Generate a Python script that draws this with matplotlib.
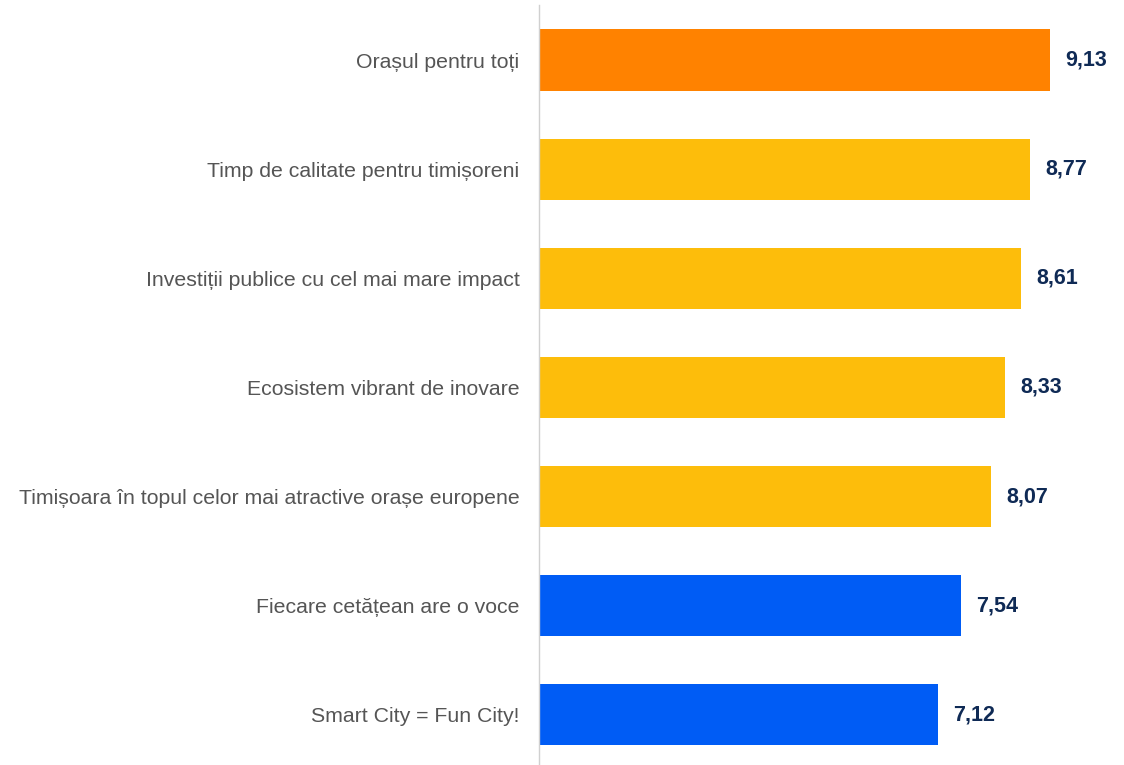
import matplotlib.pyplot as plt

categories = [
    "Orașul pentru toți",
    "Timp de calitate pentru timișoreni",
    "Investiții publice cu cel mai mare impact",
    "Ecosistem vibrant de inovare",
    "Timișoara în topul celor mai atractive orașe europene",
    "Fiecare cetățean are o voce",
    "Smart City = Fun City!",
]
values = [9.13, 8.77, 8.61, 8.33, 8.07, 7.54, 7.12]
colors = ["#FF8200", "#FDBD0B", "#FDBD0B", "#FDBD0B", "#FDBD0B", "#005CF5", "#005CF5"]

plt.rcParams['font.family'] = ['Liberation Sans', 'DejaVu Sans']

fig = plt.figure(figsize=(11.24, 7.65), dpi=100)
ax = fig.add_axes([539 / 1124, 0, 1 - 539 / 1124, 760 / 765])

pos = list(range(len(categories)))
ax.barh(pos, values, height=0.56, color=colors)

for y, v in zip(pos, values):
    ax.text(v + 0.27, y, f"{v:.2f}".replace(".", ","), va="center", ha="left",
            fontsize=15.5, fontweight="bold", color="#0F2A55")

ax.set_yticks(pos)
ax.set_yticklabels(categories, fontsize=15.3, color="#555555")
ax.tick_params(axis="y", length=0, pad=14)
ax.set_xticks([])
ax.set_xlim(0, 10.45)
ax.set_ylim(6.46, -0.504)

for s in ["top", "right", "bottom"]:
    ax.spines[s].set_visible(False)
ax.spines["left"].set_color("#D0D0D0")
ax.spines["left"].set_linewidth(1)

fig.savefig("out.png", dpi=100)
